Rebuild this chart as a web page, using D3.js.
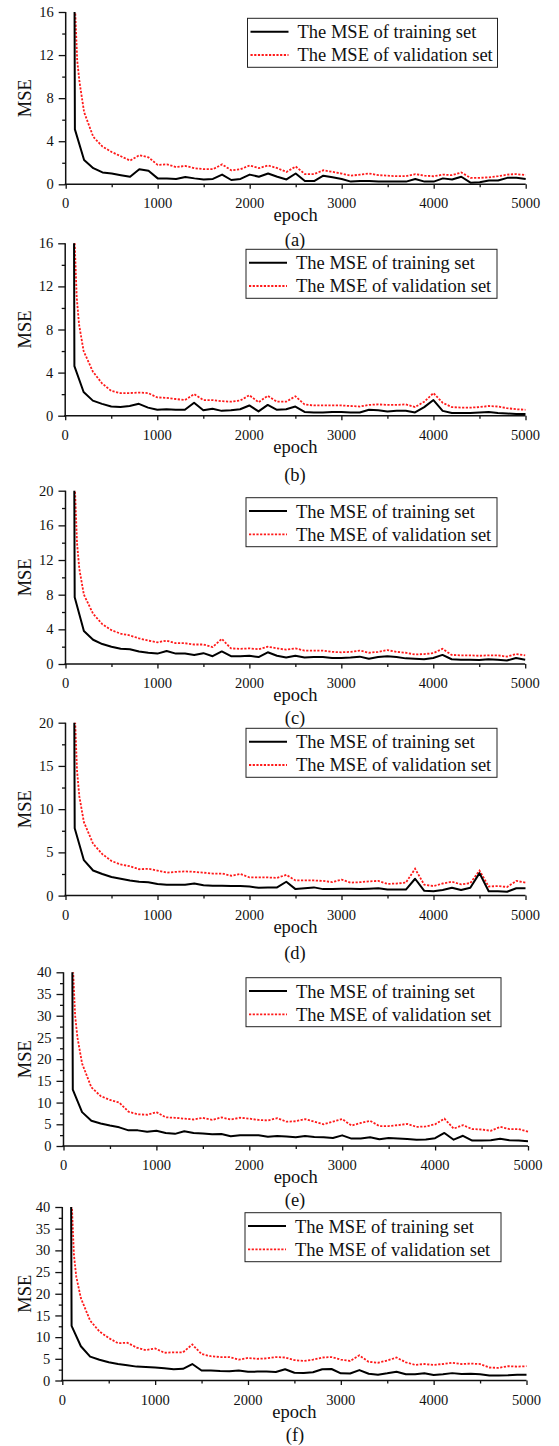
<!DOCTYPE html>
<html>
<head>
<meta charset="utf-8">
<script src="https://cdn.jsdelivr.net/npm/d3@7/dist/d3.min.js"></script>
<style>
  html, body { margin: 0; padding: 0; background: #fff; }
  svg { display: block; }
  text { font-family: "Liberation Serif", "Times New Roman", serif; fill: #111; }
</style>
</head>
<body>
<svg id="chart" width="559" height="1446"></svg>
<script>
// Epochs at which the MSE was recorded
const trainEpochs = [1,100,200,300,400,500,600,700,800,900,1000,1100,1200,1300,1400,1500,1600,1700,1800,1900,2000,2100,2200,2300,2400,2500,2600,2700,2800,2900,3000,3100,3200,3300,3400,3500,3600,3700,3800,3900,4000,4100,4200,4300,4400,4500,4600,4700,4800,4900,5000];
const valEpochs = [1,100,125,150,200,300,400,500,600,700,800,900,1000,1100,1200,1300,1400,1500,1600,1700,1800,1900,2000,2100,2200,2300,2400,2500,2600,2700,2800,2900,3000,3100,3200,3300,3400,3500,3600,3700,3800,3900,4000,4100,4200,4300,4400,4500,4600,4700,4800,4900,5000];

// (a)
const trainA = [300,5.1,2.25,1.5,1.1,1.0,0.85,0.7,1.4,1.25,0.55,0.55,0.5,0.68,0.55,0.45,0.5,0.9,0.4,0.5,0.9,0.7,1.0,0.7,0.45,1.0,0.3,0.3,0.8,0.65,0.5,0.25,0.3,0.3,0.25,0.25,0.25,0.25,0.5,0.25,0.25,0.55,0.45,0.7,0.15,0.2,0.35,0.35,0.6,0.6,0.5];
const valA = [300,16.8,11.5,9.5,6.7,4.4,3.5,3.0,2.6,2.2,2.7,2.5,1.8,1.85,1.6,1.7,1.5,1.4,1.4,1.85,1.3,1.4,1.75,1.5,1.75,1.5,1.15,1.65,0.95,0.95,1.3,1.15,1.0,0.8,0.9,1.0,0.85,0.8,0.75,0.75,0.95,0.8,0.75,0.9,0.85,1.1,0.6,0.6,0.65,0.75,0.9,0.95,0.85];
// (b)
const trainB = [300,4.6,2.2,1.4,1.1,0.85,0.8,0.9,1.1,0.75,0.55,0.6,0.55,0.55,1.2,0.5,0.65,0.45,0.5,0.6,0.95,0.4,1.0,0.55,0.6,0.85,0.35,0.3,0.3,0.35,0.35,0.3,0.3,0.55,0.5,0.4,0.45,0.45,0.3,0.8,1.45,0.45,0.25,0.25,0.25,0.3,0.35,0.25,0.2,0.15,0.15];
const valB = [300,16.8,11.0,8.5,6.0,4.1,3.0,2.3,2.1,2.1,2.15,2.1,1.7,1.65,1.55,1.45,2.0,1.45,1.45,1.35,1.3,1.4,1.9,1.25,1.85,1.3,1.3,1.8,1.05,0.95,0.95,0.95,0.95,0.9,0.85,1.0,1.05,1.0,1.0,1.05,0.8,1.3,2.1,1.2,0.8,0.75,0.75,0.8,0.9,0.85,0.7,0.6,0.55];
// (c)
const trainC = [300,7.7,3.8,2.8,2.3,2.0,1.75,1.7,1.45,1.3,1.2,1.5,1.2,1.2,1.05,1.25,0.9,1.45,0.9,0.9,0.95,0.8,1.35,0.95,0.75,0.95,0.75,0.8,0.8,0.7,0.7,0.75,0.85,0.6,0.8,0.9,0.8,0.65,0.6,0.55,0.7,1.05,0.55,0.5,0.5,0.45,0.55,0.5,0.4,0.7,0.5];
const valC = [300,21,14.0,11.0,8.0,5.8,4.6,3.9,3.5,3.3,2.95,2.7,2.5,2.7,2.4,2.4,2.25,2.25,1.95,2.9,1.8,1.75,1.8,1.7,2.0,1.8,1.65,1.8,1.55,1.55,1.55,1.4,1.35,1.4,1.55,1.3,1.4,1.6,1.4,1.3,1.1,1.15,1.25,1.75,1.05,1.0,1.0,0.95,1.0,1.0,0.85,1.15,1.0];
// (d)
const trainD = [300,7.8,4.1,2.9,2.5,2.15,1.95,1.75,1.6,1.55,1.35,1.25,1.25,1.25,1.4,1.2,1.15,1.15,1.1,1.1,1.05,0.9,0.95,0.95,1.6,0.75,0.85,0.95,0.75,0.75,0.8,0.8,0.75,0.8,0.85,0.7,0.7,0.7,1.95,0.55,0.5,0.65,0.9,0.65,0.9,2.6,0.5,0.5,0.45,0.85,0.85];
const valD = [300,21.5,14.5,11.5,8.5,6.0,4.8,4.0,3.6,3.4,3.05,3.1,2.9,2.65,2.75,2.8,2.75,2.65,2.55,2.55,2.3,2.5,2.1,2.1,2.1,2.05,2.4,1.75,1.75,1.75,1.7,1.55,1.85,1.5,1.55,1.65,1.7,1.35,1.4,1.5,3.1,1.25,1.1,1.4,1.6,1.3,1.45,2.9,1.05,1.1,1.0,1.7,1.5];
// (e)
const trainE = [600,13.0,7.8,5.8,5.2,4.7,4.3,3.6,3.6,3.3,3.5,3.0,2.8,3.4,3.0,2.9,2.7,2.75,2.25,2.5,2.5,2.45,2.15,2.3,2.2,2.0,2.3,2.1,2.0,1.85,2.45,1.7,1.75,2.0,1.55,1.85,1.75,1.6,1.45,1.5,1.8,3.0,1.45,2.35,1.25,1.25,1.35,1.65,1.35,1.25,1.1];
const valE = [600,42,30,25,19.0,13.5,11.5,10.6,10.0,7.9,7.3,7.2,7.8,6.6,6.5,6.3,6.1,6.5,6.0,6.6,6.1,6.5,6.3,6.0,5.9,6.4,5.6,5.7,6.2,5.6,5.0,5.6,6.2,4.7,5.3,5.8,4.6,4.6,4.8,5.1,4.4,4.5,5.0,6.3,4.0,4.8,3.9,3.8,3.5,4.4,3.9,3.9,3.3];
// (f)
const trainF = [600,12.6,7.9,5.5,4.8,4.2,3.8,3.5,3.2,3.1,3.0,2.8,2.6,2.7,3.8,2.3,2.3,2.2,2.15,2.3,2.0,2.05,2.05,1.95,2.6,1.8,1.75,1.9,2.6,2.65,1.65,1.6,2.4,1.55,1.35,1.65,2.0,1.45,1.45,1.65,1.25,1.45,1.7,1.5,1.55,1.45,1.15,1.15,1.2,1.3,1.3];
const valF = [600,42,29,24,19.0,13.8,11.3,9.8,8.6,8.7,7.6,7.0,7.4,6.4,6.5,6.5,8.3,6.1,5.6,5.4,5.4,4.8,5.2,5.0,5.1,5.4,5.3,4.7,4.5,4.8,5.3,5.4,4.8,4.5,5.8,4.3,4.1,4.6,5.3,4.2,3.6,3.8,3.6,3.8,4.1,3.8,3.9,3.8,3.0,2.9,3.3,3.2,3.3];

const xTicks = [0,1000,2000,3000,4000,5000];
const legendLabels = ["The MSE of training set", "The MSE of validation set"];
const captions = ["(a)","(b)","(c)","(d)","(e)","(f)"];

// Panel frames: plot box in page pixels, y range and tick spacing
const panels = [
  { train: trainA, val: valA, ymax: 16, major: 4, minor: 2,   top: 12,    bottom: 184.3,  left: 65.7, right: 525.7, legX: 247.5, legY: 18.3,   legW: 250, capY: 239.5 },
  { train: trainB, val: valB, ymax: 16, major: 4, minor: 2,   top: 243.3, bottom: 415.7,  left: 65.2, right: 525.5, legX: 246,   legY: 249.3,  legW: 251, capY: 475 },
  { train: trainC, val: valC, ymax: 20, major: 4, minor: 2,   top: 490.7, bottom: 664,    left: 65.5, right: 525.2, legX: 246,   legY: 497.7,  legW: 251, capY: 718 },
  { train: trainD, val: valD, ymax: 20, major: 5, minor: 2.5, top: 722.7, bottom: 895.6,  left: 65.5, right: 525.5, legX: 246,   legY: 728.3,  legW: 251, capY: 953 },
  { train: trainE, val: valE, ymax: 40, major: 5, minor: 2.5, top: 972.3, bottom: 1146,   left: 63.5, right: 528,   legX: 246,   legY: 977.7,  legW: 255, capY: 1200 },
  { train: trainF, val: valF, ymax: 40, major: 5, minor: 2.5, top: 1207,  bottom: 1380.5, left: 62.3, right: 526.5, legX: 245,   legY: 1212.7, legW: 256, capY: 1435 }
];

const svg = d3.select("#chart");
const RED = "#ff1a1a";
const DASH = "2.2,1.5";

panels.forEach((p, i) => {
  const x = d3.scaleLinear().domain([0, 5000]).range([p.left, p.right]);
  const y = d3.scaleLinear().domain([0, p.ymax]).range([p.bottom, p.top]);
  const g = svg.append("g");

  const clipId = "clip" + i;
  svg.append("defs").append("clipPath").attr("id", clipId)
    .append("rect")
    .attr("x", p.left).attr("y", p.top)
    .attr("width", p.right - p.left + 2).attr("height", p.bottom - p.top);

  // data lines
  const line = d3.line().x(d => x(d[0])).y(d => y(d[1]));
  const lines = g.append("g").attr("clip-path", `url(#${clipId})`);
  lines.append("path")
    .datum(valEpochs.map((e, k) => [e, p.val[k]]))
    .attr("d", line)
    .attr("fill", "none").attr("stroke", RED).attr("stroke-width", 1.8)
    .attr("stroke-dasharray", DASH);
  lines.append("path")
    .datum(trainEpochs.map((e, k) => [e, p.train[k]]))
    .attr("d", line)
    .attr("fill", "none").attr("stroke", "#000").attr("stroke-width", 2)
    .attr("stroke-linejoin", "round");

  // x axis
  const xAxis = g.append("g").attr("transform", `translate(0,${p.bottom})`);
  xAxis.call(d3.axisBottom(x).tickValues(d3.range(0, 5001, 500)).tickSize(0).tickFormat(""));
  xAxis.select(".domain").remove();
  xAxis.selectAll(".tick line").remove();
  xAxis.selectAll(".tick").append("line")
    .attr("y1", 0).attr("y2", d => d % 1000 === 0 ? 4.5 : 3)
    .attr("stroke", "#111").attr("stroke-width", 1.3);
  xAxis.append("line").attr("x1", p.left - 1).attr("x2", p.right)
    .attr("stroke", "#111").attr("stroke-width", 1.5);
  g.append("g").selectAll("text").data(xTicks).join("text")
    .attr("x", d => x(d)).attr("y", p.bottom + 24)
    .attr("text-anchor", "middle").attr("font-size", "14.5px")
    .text(d => d);

  // y axis
  const yAxis = g.append("g").attr("transform", `translate(${p.left},0)`);
  yAxis.call(d3.axisLeft(y).tickValues(d3.range(0, p.ymax + 0.001, p.minor)).tickSize(0).tickFormat(""));
  yAxis.select(".domain").remove();
  yAxis.selectAll(".tick line").remove();
  const isMajor = d => Math.abs(d / p.major - Math.round(d / p.major)) < 1e-6;
  yAxis.selectAll(".tick").append("line")
    .attr("x1", 0).attr("x2", d => isMajor(d) ? -7 : -3.5)
    .attr("stroke", "#111").attr("stroke-width", 1.3);
  yAxis.append("line").attr("y1", p.bottom + 0.7).attr("y2", p.top)
    .attr("stroke", "#111").attr("stroke-width", 1.5);
  g.append("g").selectAll("text").data(d3.range(0, p.ymax + 0.001, p.major)).join("text")
    .attr("x", p.left - 12).attr("y", d => y(d)).attr("dy", "0.35em")
    .attr("text-anchor", "end").attr("font-size", "14.5px")
    .text(d => d);

  // axis titles
  g.append("text")
    .attr("x", (p.left + p.right) / 2 + 0).attr("y", p.bottom + 37)
    .attr("text-anchor", "middle").attr("font-size", "18.5px")
    .text("epoch");
  g.append("text")
    .attr("transform", `translate(31,${(p.top + p.bottom) / 2}) rotate(-90)`)
    .attr("text-anchor", "middle").attr("font-size", "18.5px")
    .text("MSE");

  // legend
  const leg = g.append("g").attr("transform", `translate(${p.legX},${p.legY})`);
  leg.append("rect").attr("width", p.legW).attr("height", 49)
    .attr("fill", "#fff").attr("stroke", "#222").attr("stroke-width", 1);
  leg.append("line").attr("x1", 3).attr("x2", 41).attr("y1", 13.4).attr("y2", 13.4)
    .attr("stroke", "#000").attr("stroke-width", 2);
  leg.append("line").attr("x1", 3).attr("x2", 41).attr("y1", 36.7).attr("y2", 36.7)
    .attr("stroke", RED).attr("stroke-width", 1.8).attr("stroke-dasharray", DASH);
  leg.selectAll("text.lab").data(legendLabels).join("text").attr("class", "lab")
    .attr("x", 50).attr("y", (d, k) => [13.4, 36.7][k]).attr("dy", "0.35em")
    .attr("font-size", "18.5px")
    .text(d => d);

  // panel caption
  g.append("text")
    .attr("x", 295).attr("y", p.capY).attr("dy", "0.35em")
    .attr("text-anchor", "middle").attr("font-size", "18.5px")
    .text(captions[i]);
});
</script>
</body>
</html>
